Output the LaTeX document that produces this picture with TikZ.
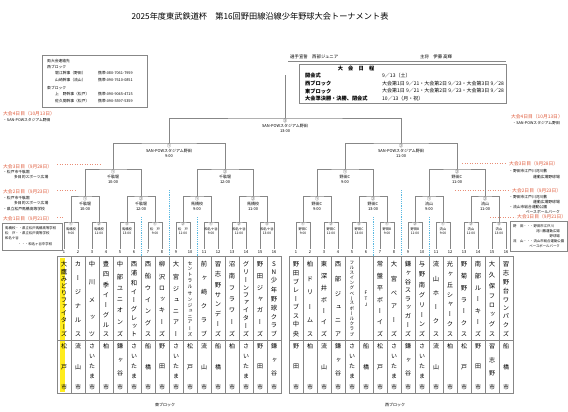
\documentclass[tikz,border=0pt]{standalone}
\usepackage{fontspec}
\setmainfont{Noto Sans CJK JP}
\newfontfamily\tatefont[RawFeature={+vert}]{Noto Sans CJK JP}
\usetikzlibrary{positioning}

\definecolor{daycol}{RGB}{224,92,60}
\definecolor{sepcol}{RGB}{90,185,225}
\definecolor{linecol}{RGB}{135,135,135}
\definecolor{hilite}{RGB}{255,236,30}

% vertical (tate) text: characters spread over a fixed height
\newlength\tateht
\makeatletter
\newcommand\tate[2]{\setlength\tateht{#1}%
  \vbox to\tateht{\offinterlineskip\expandafter\tate@a#2\@nil}}
\def\tate@a#1{\hbox to1em{\hss#1\hss}\tate@b}
\def\tate@b#1{\ifx#1\@nil\else\vfill\hbox to1em{\hss#1\hss}\expandafter\tate@b\fi}
\makeatother

\tikzset{
    bracket/.style={draw=linecol, line width=0.55pt},
    r1lbl/.style={anchor=north, align=center, inner sep=0pt, font=\fontsize{3.3}{4.4}\selectfont},
    matchlbl/.style={anchor=north, align=center, inner sep=0pt, font=\fontsize{4}{5}\selectfont},
    daylbl/.style={inner sep=0pt, text=daycol, font=\fontsize{4.8}{5}\selectfont},
    notelbl/.style={inner sep=0pt, font=\fontsize{3.8}{4}\selectfont},
    leader/.style={draw=daycol!70, dotted, line width=0.5pt},
    sepline/.style={draw=sepcol, dash pattern=on 1.2pt off 1pt, line width=0.5pt},
    gridline/.style={draw=linecol, line width=0.45pt},
    framebox/.style={draw=linecol, line width=0.5pt},
    colnum/.style={inner sep=0pt, font=\fontsize{4}{4}\selectfont},
    teamname/.style={inner sep=0pt, anchor=center}
}

\begin{document}
\begin{tikzpicture}[x=1pt, y=-1pt]
\useasboundingbox (0,0) rectangle (568,412);
\fill[white] (0,0) rectangle (568,412);

% title and header
\node[font=\fontsize{8.2}{8.2}\selectfont] (title) at (260,16) {2025年度東武鉄道杯　第16回野田線沿線少年野球大会トーナメント表};
\node[anchor=west, inner sep=0pt, font=\fontsize{4.4}{5}\selectfont] (oath) at (290,57) {選手宣誓　西部ジュニア};
\node[anchor=west, inner sep=0pt, font=\fontsize{4.4}{5}\selectfont] (captain) at (420,57) {主将　伊藤 高輝};
\draw[framebox] (288,61) -- (506,61);

% schedule
\draw[framebox] (299,64) rectangle (506,103);
\node[font=\fontsize{5.2}{5.2}\selectfont\bfseries] (sched) at (356,68.5) {大　会　日　程};
\node[anchor=west, inner sep=0pt, font=\fontsize{5.2}{5.2}\selectfont\bfseries] (s1) at (305,76) {開会式};
\node[anchor=west, inner sep=0pt, font=\fontsize{5.2}{5.2}\selectfont\bfseries] (s2) at (305,83.5) {西ブロック};
\node[anchor=west, inner sep=0pt, font=\fontsize{5.2}{5.2}\selectfont\bfseries] (s3) at (305,91) {東ブロック};
\node[anchor=west, inner sep=0pt, font=\fontsize{5.2}{5.2}\selectfont\bfseries] (s4) at (305,98.5) {大会準決勝・決勝、閉会式};
\node[anchor=west, inner sep=0pt, font=\fontsize{5}{5}\selectfont] (v1) at (382,76) {9／13（土）};
\node[anchor=west, inner sep=0pt, font=\fontsize{5}{5}\selectfont] (v2) at (382,83.5) {大会第1日 9／21・大会第2日 9／23・大会第3日 9／28};
\node[anchor=west, inner sep=0pt, font=\fontsize{5}{5}\selectfont] (v3) at (382,91) {大会第1日 9／21・大会第2日 9／23・大会第3日 9／28};
\node[anchor=west, inner sep=0pt, font=\fontsize{5}{5}\selectfont] (v4) at (382,98.5) {10／13（月・祝）};

% contacts
\draw[framebox] (42,55) rectangle (147,107);
\node[notelbl, anchor=west] (c0) at (47,61) {両大会連絡先};
\node[notelbl, anchor=west] (c1) at (47,67) {西ブロック};
\node[notelbl, anchor=west] (c2) at (55,73.5) {堀江幹事（野田）};
\node[notelbl, anchor=west] (c3) at (55,80) {山崎幹事（流山）};
\node[notelbl, anchor=west] (c4) at (47,88) {東ブロック};
\node[notelbl, anchor=west] (c5) at (55,94.5) {上　野幹事（松戸）};
\node[notelbl, anchor=west] (c6) at (55,101) {佐久間幹事（松戸）};
\node[notelbl, anchor=west] (p2) at (98,73.5) {携帯:080-7061-7959};
\node[notelbl, anchor=west] (p3) at (98,80) {携帯:090-7610-0851};
\node[notelbl, anchor=west] (p5) at (98,94.5) {携帯:090-9045-4715};
\node[notelbl, anchor=west] (p6) at (98,101) {携帯:090-5597-5359};

% day notes, east side
\node[daylbl, anchor=west] (dl4) at (3,114) {大会4日目（10月13日）};
\node[notelbl, anchor=west] (nl4) at (3,120) {・SAN-POWスタジアム野田};
\draw[leader] (57,164) -- (100,164);
\node[daylbl, anchor=west] (dl3) at (3,166.5) {大会3日目（9月28日）};
\node[notelbl, anchor=west] (nl3a) at (3,172) {・松戸市千駄堀};
\node[notelbl, anchor=west] (nl3b) at (14,177) {多目的スポーツ広場};
\draw[leader] (57,190) -- (75,190);
\node[daylbl, anchor=west] (dl2) at (3,192) {大会2日目（9月23日）};
\node[notelbl, anchor=west] (nl2a) at (3,198) {・松戸市千駄堀};
\node[notelbl, anchor=west] (nl2b) at (14,203) {多目的スポーツ広場};
\node[notelbl, anchor=west] (nl2c) at (3,209) {・県立松戸馬橋高等学校};
\draw[leader] (57,217) -- (64,217);
\node[daylbl, anchor=west] (dl1) at (3,219) {大会1日目（9月21日）};
\draw[framebox] (2,223) rectangle (62,250);
\node[notelbl, anchor=west, font=\fontsize{3.4}{4}\selectfont] (nl1a) at (5,228) {馬橋校・・県立松戸馬橋高等学校};
\node[notelbl, anchor=west, font=\fontsize{3.4}{4}\selectfont] (nl1b) at (5,233) {松　戸・・県立松戸高等学校};
\node[notelbl, anchor=west, font=\fontsize{3.4}{4}\selectfont] (nl1c) at (5,238.5) {和名ケ谷};
\node[notelbl, anchor=west, font=\fontsize{3.4}{4}\selectfont] (nl1d) at (18,244) {・・・和名ヶ谷中学校};

% day notes, west side
\node[daylbl, anchor=east] (dr4) at (563,117) {大会4日目（10月13日）};
\node[notelbl, anchor=east] (nr4) at (560,123) {・SAN-POWスタジアム野田};
\draw[leader] (462,163) -- (505,163);
\node[daylbl, anchor=west] (dr3) at (509,163.5) {大会3日目（9月28日）};
\node[notelbl, anchor=west] (nr3a) at (509,171) {・野田市江戸川河川敷};
\node[notelbl, anchor=east] (nr3b) at (560,177) {運動広場野球場};
\draw[leader] (455,190) -- (510,190);
\node[daylbl, anchor=west] (dr2) at (512,190.5) {大会2日目（9月23日）};
\node[notelbl, anchor=west] (nr2a) at (509,197) {・野田市江戸川河川敷};
\node[notelbl, anchor=east] (nr2b) at (560,202) {運動広場野球場};
\node[notelbl, anchor=west] (nr2c) at (509,207.5) {・流山市総合運動公園};
\node[notelbl, anchor=east] (nr2d) at (560,212.5) {ベースボールパーク};
\draw[leader] (490,217) -- (515,217);
\node[daylbl, anchor=west] (dr1) at (517,217) {大会1日目（9月21日）};
\draw[framebox] (510,221) rectangle (567,251);
\node[notelbl, anchor=west, font=\fontsize{3.4}{4}\selectfont] (nr1a) at (513,226) {野　田・・・野田市江戸川};
\node[notelbl, anchor=east, font=\fontsize{3.4}{4}\selectfont] (nr1b) at (560,231) {河川敷運動広場};
\node[notelbl, anchor=east, font=\fontsize{3.4}{4}\selectfont] (nr1c) at (560,236) {野球場};
\node[notelbl, anchor=west, font=\fontsize{3.4}{4}\selectfont] (nr1d) at (513,241.5) {流　山・・・流山市総合運動公園};
\node[notelbl, anchor=east, font=\fontsize{3.4}{4}\selectfont] (nr1e) at (560,246.5) {ベースボールパーク};

% tables
\fill[hilite] (59.5,258) rectangle (64.5,392);
\draw[gridline] (57,256) rectangle (281,393);
\draw[gridline] (57,340) -- (281,340);
\draw[gridline] (289,256) rectangle (513,393);
\draw[gridline] (289,340) -- (513,340);
\foreach \k in {1,...,15} {
  \draw[gridline] ({57+14*\k},256) -- ({57+14*\k},393);
  \draw[gridline] ({289+14*\k},256) -- ({289+14*\k},393);
}

% team slots
\foreach \i in {1,...,16} {
  \coordinate (L\i) at ({64+14*(\i-1)},248.5);
  \coordinate (R\i) at ({296+14*(\i-1)},248.5);
  \node[colnum] (nL\i) at ({64+14*(\i-1)},252.5) {\i};
  \node[colnum] (nR\i) at ({296+14*(\i-1)},252.5) {\i};
}
\foreach \k in {1,...,8} {
  \coordinate (La\k) at ({71+28*(\k-1)},222);
  \coordinate (Ra\k) at ({303+28*(\k-1)},222);
}
\foreach \k in {1,...,4} {
  \coordinate (Lb\k) at ({85+56*(\k-1)},196);
  \coordinate (Rb\k) at ({317+56*(\k-1)},196);
}
\foreach \k in {1,2} {
  \coordinate (Lc\k) at ({113+112*(\k-1)},169);
  \coordinate (Rc\k) at ({345+112*(\k-1)},169);
}
\coordinate (Ld) at (169,143);
\coordinate (Rd) at (401,143);
\coordinate (F) at (285,118);
\coordinate (Ftop) at (285,75);

% brackets
\foreach \k in {1,...,8} {
  \pgfmathtruncatemacro\a{2*\k-1}
  \pgfmathtruncatemacro\b{2*\k}
  \draw[bracket] (L\a) |- (La\k) -| (L\b);
  \draw[bracket] (R\a) |- (Ra\k) -| (R\b);
}
\foreach \k in {1,...,4} {
  \pgfmathtruncatemacro\a{2*\k-1}
  \pgfmathtruncatemacro\b{2*\k}
  \draw[bracket] (La\a) |- (Lb\k) -| (La\b);
  \draw[bracket] (Ra\a) |- (Rb\k) -| (Ra\b);
}
\draw[bracket] (Lb1) |- (Lc1) -| (Lb2);
\draw[bracket] (Lb3) |- (Lc2) -| (Lb4);
\draw[bracket] (Rb1) |- (Rc1) -| (Rb2);
\draw[bracket] (Rb3) |- (Rc2) -| (Rb4);
\draw[bracket] (Lc1) |- (Ld) -| (Lc2);
\draw[bracket] (Rc1) |- (Rd) -| (Rc2);
\draw[bracket] (Ld) |- (F) -| (Rd);
\draw[bracket] (F) -- (Ftop);

% venue separators
\draw[sepline] (141,217) -- (141,256);
\draw[sepline] (169,190) -- (169,256);
\draw[sepline] (197,217) -- (197,256);
\draw[sepline] (373,217) -- (373,256);
\draw[sepline] (401,190) -- (401,256);
\draw[sepline] (429,217) -- (429,256);

% match labels
\foreach \num/\ven/\tm [count=\k] in {①/馬橋校/9:00, ②/馬橋校/11:00, ③/馬橋校/13:00, ①/松　戸/9:00, ②/松　戸/11:00, ①/和名ケ谷/9:00, ②/和名ケ谷/11:00, ③/和名ケ谷/13:00}
  \node[r1lbl] (mLa\k) at ([yshift=-0.8pt]La\k) {\num\\\ven\\\tm};
\foreach \num/\ven/\tm [count=\k] in {①/野田C/9:00, ②/野田C/11:00, ③/野田C/13:00, ①/野田B/9:00, ②/野田B/11:00, ①/流山/9:00, ②/流山/11:00, ③/流山/13:00}
  \node[r1lbl] (mRa\k) at ([yshift=-0.8pt]Ra\k) {\num\\\ven\\\tm};
\foreach \num/\ven/\tm [count=\k] in {①/千駄堀/10:00, ②/千駄堀/12:00, ①/馬橋校/9:00, ②/馬橋校/11:00}
  \node[matchlbl] (mLb\k) at ([yshift=-0.8pt]Lb\k) {\num\\\ven\\\tm};
\foreach \num/\ven/\tm [count=\k] in {①/野田C/9:00, ②/野田C/13:00, ①/流山/9:00, ②/流山/11:00}
  \node[matchlbl] (mRb\k) at ([yshift=-0.8pt]Rb\k) {\num\\\ven\\\tm};
\foreach \num/\ven/\tm [count=\k] in {①/千駄堀/10:00, ②/千駄堀/12:00}
  \node[matchlbl] (mLc\k) at ([yshift=-0.8pt]Lc\k) {\num\\\ven\\\tm};
\foreach \num/\ven/\tm [count=\k] in {①/野田C/9:00, ②/野田C/11:00}
  \node[matchlbl] (mRc\k) at ([yshift=-0.8pt]Rc\k) {\num\\\ven\\\tm};
\node[matchlbl] (mLd) at ([yshift=-0.8pt]Ld) {①\\SAN-POWスタジアム野田\\9:00};
\node[matchlbl] (mRd) at ([yshift=-0.8pt]Rd) {②\\SAN-POWスタジアム野田\\11:00};
\node[matchlbl] (mF) at ([yshift=-0.8pt]F) {③\\SAN-POWスタジアム野田\\13:00};

% team names (east block)
\foreach \nm/\fs/\hh [count=\i] in {大鷹みどりファイターズ/6.3/75, カージナルス/6.3/75, 中川メッツ/6.3/75, 豊四季イーグルス/6.3/75, 中部ユニオンズ/6.3/75, 西浦和イーグレット/6.3/75, 西船ウイングス/6.3/75, 柳沢ロッキーズ/6.3/75, 大宮ジュニアー/6.3/75, セントラルサンジュニアーズ/4.8/75, 前ヶ崎クラブ/6.3/75, 習志野サンデーズ/6.3/75, 沼南フラワーズ/6.3/75, グリーンファイターズ/6.3/75, 野田ジャガーズ/6.3/75, SN少年野球クラブ/6.3/75}
  \node[teamname, font=\fontsize{\fs}{\fs}\tatefont] (tL\i) at ({64+14*(\i-1)},299) {\tate{\hh pt}{\nm}};
\foreach \ct [count=\i] in {松戸市, 流山市, さいたま市, 柏市, 鎌ヶ谷市, さいたま市, 船橋市, 野田市, さいたま市, 松戸市, 流山市, 船橋市, 柏市, さいたま市, 野田市, 鎌ヶ谷市}
  \node[teamname, font=\fontsize{6}{6}\tatefont] (cL\i) at ({64+14*(\i-1)},367) {\tate{46pt}{\ct}};

% team names (west block)
\foreach \nm/\fs/\hh [count=\i] in {野田ブレーブス中央/6.3/75, 柏ドリームス/6.3/75, 東深井ボーイズ/6.3/75, 西部ジュニア/6.3/75, フルスイングベースボールクラブ/4.6/75, FTJ/4.6/16, 常盤平ボーイズ/6.3/75, 大宮ベアーズ/6.3/75, 鎌ヶ谷スラッガーズ/6.3/75, 与野南グリーンズ/6.3/75, 流山ホークス/6.3/75, 光ヶ丘シャークス/6.3/75, 野菊野ラークス/6.3/75, 南部ルーキーズ/6.3/75, 大久保フロッグス/6.3/75, 習志野台ワンパクズ/6.3/75}
  \node[teamname, font=\fontsize{\fs}{\fs}\tatefont] (tR\i) at ({296+14*(\i-1)},299) {\tate{\hh pt}{\nm}};
\foreach \ct [count=\i] in {野田市, 柏市, 流山市, 鎌ヶ谷市, さいたま市, 船橋市, 松戸市, さいたま市, 鎌ヶ谷市, さいたま市, 流山市, 柏市, 松戸市, 野田市, 習志野市, 船橋市}
  \node[teamname, font=\fontsize{6}{6}\tatefont] (cR\i) at ({296+14*(\i-1)},367) {\tate{46pt}{\ct}};

\node[font=\fontsize{4}{4}\selectfont] (eastlbl) at (165,405) {東ブロック};
\node[font=\fontsize{4}{4}\selectfont] (westlbl) at (395,405) {西ブロック};
\end{tikzpicture}
\end{document}
